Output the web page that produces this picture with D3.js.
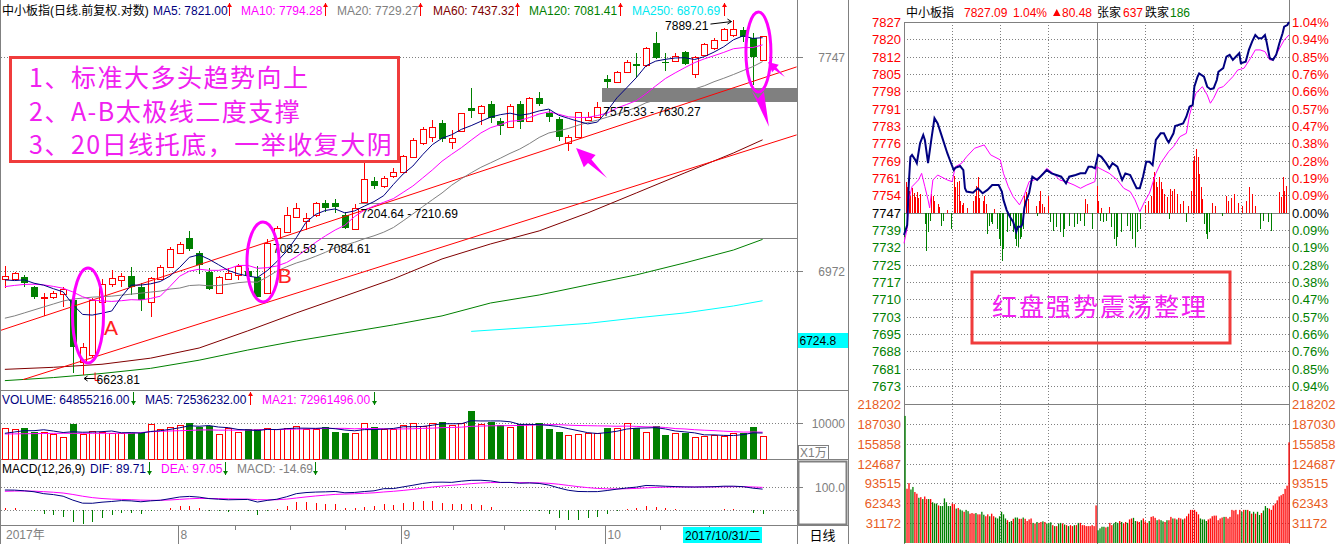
<!DOCTYPE html>
<html><head><meta charset="utf-8">
<script src="https://d3js.org/d3.v7.min.js"></script>
<style>html,body{margin:0;padding:0;background:#fff;overflow:hidden}svg{display:block}</style>
</head><body><svg id="chart" width="1342" height="544"></svg>
<script>
// ================= DAILY DATA (中小板指 2017-07 .. 2017-10-31) =================
const opens  = [6944.0,6945.0,6950.8,6916.5,6878.8,6884.3,6892.5,6873.0,6666.7,6689.1,
 6867.3,6926.8,6941.6,6955.3,6918.6,6867.3,6946.0,6987.2,7033.1,7085.5,
 7035.1,6970.0,6896.0,6945.0,6958.7,6972.0,6952.9,6896.0,7086.0,7108.7,
 7159.2,7146.2,7167.3,7208.4,7208.4,7167.3,7117.1,7212.0,7288.4,7271.5,
 7307.5,7321.9,7376.0,7427.0,7449.2,7498.6,7430.7,7471.3,7556.2,7537.7,
 7569.8,7507.1,7486.0,7569.8,7507.1,7591.1,7537.7,7513.4,7427.0,7449.2,
 7510.8,7520.8,7663.9,7651.5,7689.2,7720.6,7716.8,7799.6,7729.3,7733.0,
 7765.1,7682.8,7754.6,7780.5,7812.3,7831.5,7850.8,7818.9,7737.0];
const highs  = [6989.6,6970.0,6958.7,6921.0,6896.0,6904.9,6918.6,6878.8,6728.2,6878.8,
 6944.0,6975.8,6964.5,6985.1,6930.2,6952.9,6993.0,7056.0,7073.5,7112.2,
 7042.0,6981.7,6955.3,6981.7,6996.4,6982.0,6989.6,7082.58,7128.7,7194.4,
 7208.4,7173.3,7214.0,7220.0,7222.5,7178.9,7204.64,7352.2,7303.9,7306.4,
 7335.3,7382.1,7443.3,7483.9,7510.8,7510.8,7473.9,7537.7,7628.8,7566.2,
 7580.9,7517.1,7569.8,7580.9,7597.1,7616.0,7547.7,7523.0,7455.4,7541.4,
 7541.4,7575.33,7679.1,7695.3,7735.7,7761.2,7785.5,7841.9,7761.2,7761.2,
 7771.2,7751.9,7799.6,7818.9,7857.3,7889.21,7863.4,7838.1,7828.0];
const lows   = [6913.1,6941.6,6918.6,6877.5,6819.5,6875.3,6850.6,6630.0,6623.81,6683.4,
 6864.0,6918.6,6918.6,6890.1,6837.2,6815.1,6941.6,6981.7,7030.7,7042.0,
 6961.7,6907.3,6894.0,6941.6,6941.6,6945.0,6882.3,6893.7,7084.61,7103.0,
 7155.7,7114.6,7161.3,7178.9,7173.3,7117.1,7114.6,7210.69,7258.5,7263.2,
 7299.2,7316.2,7370.2,7418.5,7430.7,7430.7,7402.7,7467.6,7519.3,7492.4,
 7500.8,7455.4,7485.0,7476.5,7503.4,7562.5,7504.5,7434.4,7397.6,7447.0,
 7507.1,7517.1,7630.27,7647.7,7685.5,7666.6,7710.4,7738.3,7695.3,7729.3,
 7716.8,7666.6,7751.9,7773.9,7809.6,7825.0,7805.8,7641.3,7733.0];
const closes = [6956.3,6964.5,6930.2,6882.3,6884.3,6896.0,6910.7,6714.8,6716.8,6873.0,
 6927.8,6947.4,6954.2,6916.5,6873.0,6949.4,6987.2,7047.9,7065.5,7046.9,
 6993.0,6909.7,6952.9,6966.6,6989.6,6955.0,6884.3,7070.5,7122.7,7167.3,
 7190.9,7155.7,7210.5,7190.9,7194.4,7120.6,7190.9,7294.6,7271.5,7300.3,
 7321.9,7378.5,7437.0,7476.5,7483.9,7439.6,7443.3,7535.5,7545.1,7563.6,
 7517.1,7488.7,7563.6,7504.5,7593.4,7569.8,7523.0,7449.2,7447.0,7539.2,
 7520.8,7557.7,7653.8,7691.5,7727.0,7713.0,7783.2,7742.1,7725.5,7751.9,
 7719.4,7748.1,7796.9,7812.3,7853.5,7853.5,7825.0,7746.61,7827.09];
const volumes = [8730,8297,8568,7649,7649,6946,6297,9649,6946,7919,
 7486,7216,7216,7216,7216,9649,8297,9000,9378,9919,
 9000,9270,6946,8568,7486,8378,8378,8568,8297,8730,
 9108,8297,8297,8919,7649,7378,7216,9919,8919,8297,
 8297,9459,10081,9189,9919,10351,9459,10081,13243,9649,
 10351,9459,9000,9649,9649,10081,8378,7486,6757,6946,
 7378,7216,8730,8568,9919,8568,7486,9189,6757,7216,
 7378,6135,6486,6757,6486,7200,7378,8900,6485.5]; // 万股
// moving-average values before enough closes exist
const ma5Head  = [6941.6,6939.2,6941.6,6930.2];
const ma10Head = [6918.6,6922.7,6926.1,6926.8,6924.4,6919.3,6913.1,6900.4,6884.3];
const ma20Head = [6811.8,6819.5,6829.5,6839.6,6849.6,6859.6,6869.7,6876.2,6879.5,6882.8,
 6884.5,6886.2,6889.6,6893.0,6896.4,6899.9,6903.3,6910.2,6913.7];
const maLongIdx = [0,5,10,15,20,25,30,35,40,45,50,55,60,65,70,75,78];
const ma60Vals  = [6642.3,6649.0,6659.0,6679.0,6712.5,6769.3,6829.5,6886.7,6945.0,7013.5,7065.5,7111.1,7174.3,7245.2,7317.3,7389.3,7437.32];
const ma120Vals = [6605.5,6615.5,6628.9,6645.6,6672.4,6705.8,6735.9,6762.6,6789.4,6819.5,6863.0,6890.1,6924.4,6958.7,7000.0,7044.4,7081.41];
const ma250Idx  = [48,55,60,65,70,75,78];
const ma250Vals = [6767.7,6782.7,6794.4,6812.8,6829.5,6852.9,6870.69];
const volMa5Head  = [7216,7568,7919,7919];
const volMa21Head = [7030,7060,7100,7130,7160,7190,7216,7216,7216,7216,7216,7216,7216,7216,7400,7649,7750,7850,7919,8000];
const macdHist = [11,8,2,-5,-17,-20,-27,-48,-59,-48,
 -31,-20,-10,-10,-14,-5,0,11,20,20,
 11,-1,-5,-8,-5,-3,-20,-5,4,20,
 37,37,33,28,25,11,11,15,17,28,
 23,30,35,40,40,33,25,28,28,23,
 14,1,1,-5,-2,-5,-15,-31,-41,-41,
 -34,-27,-14,-2,6,11,20,14,8,4,
 1,0,1,2,5,4,0,-10,-14.69];
const deaStart = 79.14;
// price gaps
const gapStart = [27.5, 36.5, 61.5];
const gapLow   = [7082.58, 7204.64, 7575.33];
const gapHigh  = [7084.61, 7210.69, 7630.27];
// hand-drawn trend lines (index, price)
const trendIdx   = [[-0.5, 81.5], [1.87, 81.5]];
const trendPrice = [[6770.3, 7709.3], [6608.8, 7455.4]];
// axis labels
const leftTicks = [7747, 6972];
const monthIdx = [18, 41, 62];
const monthLabels = ['8', '9', '10'];
const titleText = '中小板指(日线.前复权.对数)';
const maLabels = ['MA5: 7821.00', 'MA10: 7794.28', 'MA20: 7729.27', 'MA60: 7437.32', 'MA120: 7081.41', 'MA250: 6870.69'];
const volLabels = ['VOLUME: 64855216.00', 'MA5: 72536232.00', 'MA21: 72961496.00'];
const macdLabels = ['MACD(12,26,9)', 'DIF: 89.71', 'DEA: 97.05', 'MACD: -14.69'];
const noteLines = ['1、标准大多头趋势向上', '2、A-B太极线二度支撑', '3、20日线托底，一举收复大阴'];

// ================= INTRADAY DATA (2017-10-31) =================
const prevClose = 7746.61, maxChg = 80.48;
const intraMin = [0,2,3,4,5,7,8,10,12,13,15,17,19,21,23,27,29,31,32,35,37,38,39,43,46,49,52,55,59,61,
 62,64,66,68,70,71,73,74,75,76,78,80,83,86,89,92,95,98,101,103,107,110,113,115,117,119,121,123,126,128,
 130,133,136,138,141,143,145,147,149,151,153,155,157,160,162,164,165,168,169,171,174,176,178,180,181,183,184,187,189,191,
 193,195,196,199,201,203,205,207,209,210,213,215,217,219,221,223,225,226,228,230,232,234,236,237,239,240];
const intraPrice = [7737.2,7741.4,7759.1,7770.2,7771.0,7768.9,7767.5,7775.9,7779.4,7777.3,7767.5,7777.3,7786.5,7784.3,7780.1,7771.7,7768.1,7764.6,7765.5,7766.3,
 7764.6,7756.9,7755.5,7755.0,7756.9,7754.8,7756.2,7758.3,7758.3,7755.5,7752.0,7747.7,7744.9,7742.8,7738.6,7740.7,7740.7,7742.1,7748.5,7751.3,
 7754.9,7761.8,7760.4,7762.5,7764.6,7763.2,7762.5,7761.8,7759.0,7761.8,7762.5,7763.2,7763.2,7766.0,7766.0,7765.3,7771.0,7770.2,7767.5,7765.3,
 7767.5,7766.0,7760.4,7763.2,7762.5,7759.7,7756.9,7756.9,7761.8,7768.1,7768.1,7766.7,7777.3,7780.1,7780.1,7777.3,7776.2,7780.1,7783.2,7783.6,
 7784.3,7787.1,7791.3,7792.1,7799.8,7804.0,7805.4,7804.0,7799.8,7798.7,7799.1,7802.6,7806.1,7807.6,7812.5,7813.2,7811.1,7812.5,7813.9,7809.7,
 7810.3,7815.3,7818.8,7821.6,7820.2,7820.2,7821.6,7818.8,7811.8,7811.1,7813.2,7818.1,7822.3,7825.1,7825.8,7827.09];
const avgMin = [0,2,3,5,9,11,13,15,16,18,21,27,30,32,36,39,44,50,54,60,62,65,68,72,75,78,81,85,89,93,
 97,101,106,110,114,119,120,124,128,133,137,141,144,147,150,153,157,160,165,168,172,176,178,180,182,186,189,191,193,196,
 199,202,205,208,212,216,219,222,225,228,230,233,237,240];
const avgPrice = [7733.7,7740.1,7752.0,7757.6,7760.4,7763.2,7757.6,7752.0,7748.6,7760.4,7762.5,7760.4,7759.7,7766.0,7767.5,7770.2,7773.8,7775.2,7771.0,7768.9,
 7763.2,7757.6,7753.4,7749.9,7754.1,7759.7,7760.4,7761.8,7765.3,7763.2,7760.4,7759.7,7758.3,7756.9,7758.3,7759.7,7766.0,7764.6,7763.2,7760.4,
 7756.9,7755.5,7752.0,7747.0,7751.3,7754.8,7763.2,7767.5,7772.4,7774.5,7778.7,7780.1,7787.8,7792.8,7797.0,7799.8,7796.3,7792.8,7794.9,7799.1,
 7799.8,7801.9,7804.0,7806.8,7807.6,7811.8,7815.3,7815.3,7814.6,7811.1,7811.1,7814.6,7819.5,7821.6];
const breadthMin = [0,1,2,3,4,5,6,7,8,9,10,13,14,15,16,17,18,19,21,22,23,24,27,29,31,32,33,34,35,36,
 37,39,43,44,45,46,47,49,50,51,52,53,54,55,56,58,59,60,61,62,64,66,68,69,70,71,72,73,74,75,
 76,77,82,83,84,85,86,87,90,91,93,95,97,99,100,103,106,108,110,112,113,114,117,120,121,122,123,124,126,128,
 129,131,132,133,135,139,141,142,144,145,147,150,152,154,155,156,157,158,159,160,161,162,164,165,166,167,168,170,172,174,
 176,177,179,180,181,182,183,184,185,186,187,188,189,190,192,194,198,201,202,204,206,208,211,213,215,217,219,222,224,227,
 229,234,235,236,237,238];
const breadthVal = [-10.4,12.8,10.7,9.3,7.2,10.6,8.4,6.8,8.9,6.3,8.0,-4.8,-16.0,-8.3,-3.4,8.0,7.2,5.1,3.8,2.5,-5.5,-3.4,1.3,-6.9,15.6,10.7,12.8,13.5,5.1,3.4,
 4.2,2.1,5.1,7.2,11.4,14.9,6.3,5.1,7.2,3.8,-9.0,-5.5,-4.1,-4.8,1.7,-6.9,-11.1,-13.9,-20.3,-15.3,-8.3,-5.5,-8.3,-11.1,-13.9,-14.6,-11.1,-10.4,-6.9,7.2,
 8.6,5.9,3.0,-1.3,5.1,9.3,3.8,2.5,7.2,-4.1,-7.6,-6.2,-8.3,-10.4,-6.9,-5.5,-6.2,-4.8,-3.4,-5.5,5.9,3.8,-6.9,11.4,5.1,-3.4,2.1,-4.1,-3.4,2.5,
 -6.2,-11.1,-13.9,-10.4,-8.3,-5.5,-7.6,-11.1,-14.6,-8.3,-6.9,3.4,5.1,7.2,14.9,17.0,12.8,10.7,14.9,12.8,10.1,8.0,6.5,-2.7,10.0,9.3,10.0,8.0,3.8,5.1,
 -4.1,3.0,9.3,21.9,24.1,26.9,23.3,16.3,10.7,5.9,-4.8,-9.0,-11.1,-8.3,4.2,3.0,-1.3,7.2,5.1,6.3,8.0,4.2,3.0,5.1,10.7,8.0,3.0,-6.9,-3.4,-4.1,
 -7.6,8.6,6.8,14.9,9.3,11.4];
const ivVol = [199500,85200,94000,84000,88000,80000,77400,71000,72000,69000,73000,69000,69000,69000,64000,62000,62000,59000,58000,58000,
 70000,64000,58000,58000,62000,61000,54000,55000,52500,51000,49000,52000,50000,46000,47000,46000,47000,45000,45000,49000,
 44400,42000,45000,42000,46000,42000,40000,38500,42000,49000,45000,38500,35800,33000,34500,38000,40000,40000,38000,38000,
 40000,38000,34500,37000,38500,31600,30700,33000,31600,33000,34000,33000,30700,31600,32500,28000,26500,26500,30700,31600,
 30700,29000,28000,26500,28000,26500,28000,28000,31600,31600,28000,28000,26500,26500,26500,28000,26500,
 59000,20000,23000,25500,25500,24400,25500,31600,28000,30700,33000,31600,34500,33000,30700,33000,31600,37000,38500,39500,
 34500,34000,33000,35800,38500,34000,31600,34500,41000,42000,39500,35800,37000,35800,34000,33000,35800,35800,41000,38500,
 38500,37000,39500,38500,37000,38500,42000,46000,52000,52000,52000,49000,45000,38500,37000,37000,34500,37000,38500,42000,
 43000,43000,35800,38500,40000,41000,41000,38500,41000,52000,51000,52000,45000,52000,49000,52000,52000,52000,50000,46000,
 49000,46000,49000,44000,47000,51000,58000,55000,54000,52000,59000,62000,67000,73000,75000,77000,85000,90000,158000];
const ivDir = 'grrggrrgrg'+'rrgrgggrgg'+'ggggrrgrgg'+'rggrrrgrrg'+'grrgrrgggg'+'ggrggrggrr'+'grrrrgrgrr'+'grgggrgrgg'+'rgrgrrgrgr'+'rrrrrrr'
 +'rggggrgrrg'+'ggrgrrgrrg'+'grrgrrrgrr'+'rgrggrgrrg'+'rgrrgrrrrr'+'rrrggggrrr'+'rrrrrgrrrr'+'rrrrgrgrgr'+'grggrgggrr'+'rrrrrrrrr';
const intraPriceLabels = ['7827','7820','7812','7805','7798','7791','7783','7776','7769','7761','7754','7747','7739','7732','7725','7717','7710','7703','7695','7688','7681','7673'];
const intraPctLabels = ['1.04%','0.94%','0.85%','0.76%','0.66%','0.57%','0.47%','0.38%','0.28%','0.19%','0.09%','0.00%','0.09%','0.19%','0.28%','0.38%','0.47%','0.57%','0.66%','0.76%','0.85%','0.94%'];
const ivLabels = ['218202','187030','155858','124687','93515','62343','31172'];
const intraHeader = ['中小板指', '7827.09', '1.04%', '80.48', '张家', '637', '跌家', '186'];
const intraNote = '红盘强势震荡整理';

// ================= DRAWING =================
const RED = '#ff0000', GREEN = '#008000', NAVY = '#000080', MAG = '#ff00ff', GRAY = '#808080';
const LAT = '"Liberation Sans","Noto Sans CJK SC",sans-serif';
const CJK = '"Noto Sans CJK SC","Liberation Sans",sans-serif';
const svg = d3.select('#chart').style('font-family', LAT);

function T(g, x, y, s, o = {}) {
  const t = g.append('text').attr('x', x).attr('y', y).text(s)
    .attr('font-size', o.size || 12).attr('fill', o.fill || '#000');
  if (o.anchor) t.attr('text-anchor', o.anchor);
  if (o.family) t.attr('font-family', o.family);
  if (o.ls != null) t.attr('letter-spacing', o.ls);
  return t;
}
function L(g, x1, y1, x2, y2, c, o = {}) {
  const l = g.append('line').attr('x1', x1).attr('y1', y1).attr('x2', x2).attr('y2', y2)
    .attr('stroke', c).attr('stroke-width', o.w || 1);
  if (o.dash) l.attr('stroke-dasharray', o.dash);
  if (o.crisp) l.attr('shape-rendering', 'crispEdges');
  return l;
}
function mark(g, x, yTop, yBot, up, c) {
  x = Math.round(x) + 0.5;
  L(g, x, yTop, x, yBot, c);
  const hy = up ? yTop : yBot, d = up ? 4 : -4;
  g.append('path').attr('d', `M${x - 2.5},${hy + d}L${x},${hy}L${x + 2.5},${hy + d}Z`).attr('fill', c);
}
function fatArrow(g, tx, ty, sx, sy, hl, hw, sw) {
  const dx = tx - sx, dy = ty - sy, len = Math.hypot(dx, dy), ux = dx / len, uy = dy / len, nx = -uy, ny = ux;
  const bx = tx - ux * hl, by = ty - uy * hl;
  const pts = [[tx, ty], [bx + nx * hw / 2, by + ny * hw / 2], [bx + nx * sw / 2, by + ny * sw / 2], [sx, sy],
    [bx - nx * sw / 2, by - ny * sw / 2], [bx - nx * hw / 2, by - ny * hw / 2]];
  g.append('polygon').attr('points', pts.map(p => p.join(',')).join(' ')).attr('fill', MAG);
}
function sma(arr, n, head) {
  return arr.map((_, i) => i < n - 1 ? head[i] : d3.mean(arr.slice(i - n + 1, i + 1)));
}

// ---------- scales (left) ----------
const N = closes.length;
const xc = d3.scaleLinear().domain([0, N - 1]).range([4.86, 762.6]);
const py = d3.scaleLog().domain([6972, 7747]).range([271, 57]);
const vy = d3.scaleLinear().domain([0, 10000]).range([460, 423]);
const my = d3.scaleLinear().domain([0, 100]).range([510.3, 486.7]);
const pxc = i => Math.round(xc(i)) + 0.5;

const defs = svg.append('defs');
defs.append('clipPath').attr('id', 'clipP').append('rect').attr('x', 1).attr('y', 18).attr('width', 796).attr('height', 372);

// ---------- frames ----------
const frame = svg.append('g');
[[0.5, 0, 0.5, 544], [797.5, 0, 797.5, 544], [848.5, 0, 848.5, 544],
 [0, 390.5, 848, 390.5], [0, 459.5, 848, 459.5], [0, 525.5, 848, 525.5]]
  .forEach(a => L(frame, a[0], a[1], a[2], a[3], GRAY, {crisp: true}));

// ---------- grid & right axis (left chart) ----------
const grid = svg.append('g');
leftTicks.forEach(v => {
  const yy = Math.round(py(v)) + 0.5;
  L(grid, 1, yy, 797, yy, GRAY, {dash: '1,2', crisp: true});
  L(grid, 797, yy, 803, yy, GRAY, {crisp: true});
  T(grid, 845, yy + 4.5, String(v), {fill: GRAY, anchor: 'end'});
});
{
  const yy = Math.round(vy(10000)) + 0.5;
  L(grid, 1, yy, 797, yy, GRAY, {dash: '1,2', crisp: true});
  L(grid, 797, yy, 803, yy, GRAY, {crisp: true});
  T(grid, 845, yy + 4.5, '10000', {fill: GRAY, anchor: 'end'});
  const y2 = Math.round(my(100)) + 0.5;
  L(grid, 1, y2, 797, y2, GRAY, {dash: '1,2', crisp: true});
  L(grid, 797, y2, 803, y2, GRAY, {crisp: true});
  const y0 = Math.round(my(0)) + 0.5;
  L(grid, 1, y0, 797, y0, GRAY, {dash: '1,2', crisp: true});
  grid.append('rect').attr('x', 798.5).attr('y', 461.5).attr('width', 48).attr('height', 63)
    .attr('fill', 'none').attr('stroke', GRAY).attr('stroke-width', 2);
  T(grid, 845, y2 + 4.5, '100.0', {fill: GRAY, anchor: 'end'});
  grid.append('rect').attr('x', 798.5).attr('y', 445.5).attr('width', 30).attr('height', 14)
    .attr('fill', '#fff').attr('stroke', GRAY);
  T(grid, 800, 457, 'X1万', {fill: GRAY, size: 12});
  // current price marker box
  grid.append('rect').attr('x', 798).attr('y', 333).attr('width', 50).attr('height', 15).attr('fill', '#00ffff');
  T(grid, 799.5, 345, '6724.8', {size: 12});
}

// ---------- price panel ----------
const pp = svg.append('g').attr('clip-path', 'url(#clipP)');
gapStart.forEach((s, k) => {
  const yt = py(gapHigh[k]), yb = py(gapLow[k]);
  pp.append('rect').attr('x', Math.round(xc(s))).attr('y', Math.round(yt))
    .attr('width', 797 - Math.round(xc(s))).attr('height', Math.max(1, Math.round(yb) - Math.round(yt)))
    .attr('fill', GRAY).attr('shape-rendering', 'crispEdges');
});
// long MAs
const lineIdx = (idx) => d3.line().x((d, j) => xc(idx[j])).y(d => py(d));
pp.append('path').attr('d', lineIdx(ma250Idx)(ma250Vals)).attr('fill', 'none').attr('stroke', '#00ffff');
pp.append('path').attr('d', lineIdx(maLongIdx)(ma120Vals)).attr('fill', 'none').attr('stroke', GREEN);
pp.append('path').attr('d', lineIdx(maLongIdx)(ma60Vals)).attr('fill', 'none').attr('stroke', '#800000');
// candles
for (let i = 0; i < N; i++) {
  const cx = pxc(i), up = closes[i] >= opens[i];
  const yo = py(opens[i]), yc = py(closes[i]), yh = py(highs[i]), yl = py(lows[i]);
  const top = Math.min(yo, yc), bot = Math.max(yo, yc);
  if (up) {
    const t = Math.round(top) + 0.5, b = Math.max(Math.round(bot) + 0.5, t + 1);
    L(pp, cx, Math.round(yh), cx, t, RED, {crisp: true});
    L(pp, cx, b, cx, Math.round(yl), RED, {crisp: true});
    pp.append('rect').attr('x', cx - 3).attr('y', t).attr('width', 6).attr('height', b - t)
      .attr('fill', '#fff').attr('stroke', RED).attr('shape-rendering', 'crispEdges');
  } else {
    L(pp, cx, Math.round(yh), cx, Math.round(yl), GREEN, {crisp: true});
    pp.append('rect').attr('x', cx - 3.5).attr('y', Math.round(top)).attr('width', 7)
      .attr('height', Math.max(1, Math.round(bot) - Math.round(top))).attr('fill', GREEN).attr('shape-rendering', 'crispEdges');
  }
}
// trend lines
trendIdx.forEach((ti, k) => {
  L(pp, xc(ti[0]), py(trendPrice[k][0]), xc(ti[1]), py(trendPrice[k][1]), RED);
});
const ma5 = sma(closes, 5, ma5Head), ma10 = sma(closes, 10, ma10Head), ma20 = sma(closes, 20, ma20Head);
const lineAll = d3.line().x((d, i) => xc(i)).y(d => py(d));
pp.append('path').attr('d', lineAll(ma20)).attr('fill', 'none').attr('stroke', GRAY);
pp.append('path').attr('d', lineAll(ma10)).attr('fill', 'none').attr('stroke', MAG);
pp.append('path').attr('d', lineAll(ma5)).attr('fill', 'none').attr('stroke', NAVY);

// gap labels
const ann = svg.append('g');
gapStart.forEach((s, k) => {
  T(ann, xc(s) + 1, py(gapLow[k]) + 14, `${gapLow[k].toFixed(2)} - ${gapHigh[k].toFixed(2)}`, {size: 12});
});
// low / high markers
{
  const iL = lows.indexOf(d3.min(lows)), yL = py(lows[iL]), xL = xc(iL);
  L(ann, xL + 13, yL + 3.5, xL + 2, yL + 3.5, '#000');
  ann.append('path').attr('d', `M${xL + 5},${yL + 1}L${xL + 1.5},${yL + 3.5}L${xL + 5},${yL + 6}`).attr('fill', 'none').attr('stroke', '#000');
  ann.append('path').attr('d', `M${xL + 12.5},${yL - 2.5}V${yL + 5.5}H${xL + 17}`).attr('fill', 'none').attr('stroke', RED);
  T(ann, xL + 14, yL + 8.5, lows[iL].toFixed(2), {size: 12});
  const iH = highs.indexOf(d3.max(highs)), yH = py(highs[iH]), xH = xc(iH);
  T(ann, xH - 25, yH + 10, highs[iH].toFixed(2), {size: 12, anchor: 'end'});
  L(ann, xH - 23, yH + 4, xH - 2, yH + 1.5, '#000');
  ann.append('path').attr('d', `M${xH - 6},${yH - 1}L${xH - 2},${yH + 1.5}L${xH - 6},${yH + 4}`).attr('fill', 'none').attr('stroke', '#000');
}
// ellipses & arrows & A/B
const ellIdx = [8.56, 26.57, 77.57], ellPrice = [6821.2, 7003.3, 7765.9];
const ellR = [[15.5, 47.5], [16, 40], [12.5, 40]];
ellIdx.forEach((ix0, k) => {
  ann.append('ellipse').attr('cx', xc(ix0)).attr('cy', py(ellPrice[k])).attr('rx', ellR[k][0]).attr('ry', ellR[k][1])
    .attr('fill', 'none').attr('stroke', MAG).attr('stroke-width', 3);
});
T(ann, xc(10.2), py(6756), 'A', {size: 21, fill: '#ff2020'});
T(ann, xc(28.1), py(6931.3), 'B', {size: 21, fill: '#ff2020'});
fatArrow(ann, xc(58.8), py(7407.5), xc(61.98), py(7299.2), 19, 17, 5);
fatArrow(ann, xc(78.55), py(7728.1), xc(80.3), py(7671.5), 10, 10, 3);
{
  const tx = xc(78.65), ty = py(7485);
  ann.append('polygon').attr('points', `${tx},${ty} ${tx - 17},${ty - 36} ${tx - 11},${ty - 28} ${tx - 5},${ty - 35}`).attr('fill', MAG);
}
// note box
ann.append('rect').attr('x', 10.5).attr('y', 57.5).attr('width', 388).attr('height', 104)
  .attr('fill', '#fff').attr('stroke', '#f03c3c').attr('stroke-width', 3);
noteLines.forEach((s, k) => T(ann, 29, 87 + k * 33.5, s, {size: 25, fill: '#f020f0', family: CJK, ls: 1.5}));

// ---------- header (left) ----------
const hd = svg.append('g');
T(hd, 2, 14.5, titleText, {size: 12});
const maColors = [NAVY, MAG, GRAY, '#800000', GREEN, '#00e8f0'];
const maX = [153, 241, 337, 433, 529, 632], maArrowX = [229, 325, 420, 517, 620, 724];
maLabels.forEach((s, k) => { T(hd, maX[k], 14.5, s, {fill: maColors[k]}); mark(hd, maArrowX[k], 3, 16, true, RED); });

// ---------- volume panel ----------
const vg = svg.append('g');
for (let i = 0; i < N; i++) {
  const cx = pxc(i), up = closes[i] >= opens[i], t = Math.round(vy(volumes[i]));
  if (up) vg.append('rect').attr('x', cx - 3).attr('y', t + 0.5).attr('width', 6).attr('height', 459 - t - 0.5)
    .attr('fill', '#fff').attr('stroke', RED).attr('shape-rendering', 'crispEdges');
  else vg.append('rect').attr('x', cx - 3.5).attr('y', t).attr('width', 7).attr('height', 459 - t).attr('fill', GREEN);
}
const vma5 = sma(volumes, 5, volMa5Head), vma21 = sma(volumes, 21, volMa21Head);
const vline = d3.line().x((d, i) => xc(i)).y(d => vy(d));
vg.append('path').attr('d', vline(vma21)).attr('fill', 'none').attr('stroke', MAG);
vg.append('path').attr('d', vline(vma5)).attr('fill', 'none').attr('stroke', NAVY);
const vX = [2, 145, 262], vA = [133, 250, 374], vUp = [false, true, false], vC = [NAVY, NAVY, MAG];
volLabels.forEach((s, k) => { T(vg, vX[k], 404, s, {fill: vC[k]}); mark(vg, vA[k], 392, 405, vUp[k], vUp[k] ? RED : GREEN); });

// ---------- MACD panel ----------
const mg = svg.append('g');
const dea = []; { let d = deaStart; macdHist.forEach(h => { d += h / 8; dea.push(d); }); }
const dif = dea.map((v, i) => v + macdHist[i] / 2);
macdHist.forEach((h, i) => {
  if (Math.abs(h) < 0.5) return;
  L(mg, pxc(i), my(0), pxc(i), my(h), h > 0 ? RED : GREEN, {crisp: true});
});
const mline = d3.line().x((d, i) => xc(i)).y(d => my(d));
mg.append('path').attr('d', mline(dea)).attr('fill', 'none').attr('stroke', MAG);
mg.append('path').attr('d', mline(dif)).attr('fill', 'none').attr('stroke', NAVY);
const mX = [2, 90, 161, 237], mA = [null, 149, 225, 315], mC = ['#000', NAVY, MAG, GRAY];
macdLabels.forEach((s, k) => { T(mg, mX[k], 473, s, {fill: mC[k]}); if (mA[k]) mark(mg, mA[k], 462, 475, false, GREEN); });

// ---------- x axis ----------
const xa = svg.append('g');
T(xa, 6, 539, '2017年', {fill: GRAY});
monthIdx.forEach((mi, k) => {
  L(xa, pxc(mi) - 2, 526, pxc(mi) - 2, 544, GRAY, {crisp: true});
  T(xa, pxc(mi), 539, monthLabels[k], {fill: GRAY});
});
[23.7, 29.4, 35, 46.1, 51.4, 56.6, 67.4, 72.5].forEach(v => L(xa, pxc(v), 526, pxc(v), 530, GRAY, {crisp: true}));
xa.append('rect').attr('x', 683).attr('y', 527).attr('width', 79).attr('height', 16).attr('fill', '#00ffff');
T(xa, 685, 540, '2017/10/31/二', {size: 12});
T(xa, 822.5, 540, '日线', {size: 13, anchor: 'middle', family: CJK});

// ================= INTRADAY PANEL =================
const ig = svg.append('g');
const stepP = maxChg / 11;
const ix = d3.scaleLinear().domain([0, 240]).range([904, 1289]);
const iy = d3.scaleLinear().domain([prevClose - 10 * stepP, prevClose + 11 * stepP]).range([386, 22]);
const ivy = d3.scaleLinear().domain([0, +ivLabels[0]]).range([543, 404]);
// vertical grid
d3.range(0, 241, 30).forEach(m => {
  const xx = Math.round(ix(m)) + 0.5, solid = m % 120 === 0;
  L(ig, xx, m === 240 ? 0 : 22, xx, 544, GRAY, solid ? {crisp: true} : {dash: '1,2', crisp: true});
});
intraPriceLabels.forEach((lab, j) => {
  const k = 11 - j, yy = Math.round(iy(prevClose + k * stepP)) + 0.5;
  const col = k > 0 ? RED : (k === 0 ? '#000' : GREEN);
  L(ig, 904, yy, 1289, yy, GRAY, (k === 0 || k === 11) ? {crisp: true} : {dash: '1,2', crisp: true});
  T(ig, 901, yy + 4.5, lab, {fill: col, size: 13, anchor: 'end'});
  T(ig, 1292, yy + 4.5, intraPctLabels[j], {fill: col, size: 13});
});
ivLabels.forEach((lab, j) => {
  const yy = Math.round(ivy(+lab)) + 0.5;
  L(ig, 904, yy, 1289, yy, GRAY, j === 0 ? {crisp: true} : {dash: '1,2', crisp: true});
  T(ig, 901, yy + 4.5, lab, {fill: '#e85c1e', size: 13, anchor: 'end'});
  T(ig, 1292, yy + 4.5, lab, {fill: '#e85c1e', size: 13});
});
// breadth bars
breadthMin.forEach((m, j) => {
  const v = breadthVal[j], xx = Math.round(ix(m)) + 0.5;
  L(ig, xx, iy(prevClose), xx, iy(prevClose + v), v > 0 ? RED : GREEN, {crisp: true});
});
// volume bars
const ivx = d3.scaleLinear().domain([0, ivVol.length - 1]).range([905, 1289]);
ivVol.forEach((v, j) => {
  ig.append('rect').attr('x', ivx(j) - 0.6).attr('y', ivy(v)).attr('width', 1.3).attr('height', 543 - ivy(v))
    .attr('fill', ivDir[j] === 'r' ? RED : GREEN);
});
// price & avg lines
const iline = d3.line().x(d => ix(d[0])).y(d => iy(d[1]));
ig.append('path').attr('d', iline(avgMin.map((m, j) => [m, avgPrice[j]]))).attr('fill', 'none').attr('stroke', MAG);
ig.append('path').attr('d', iline(intraMin.map((m, j) => [m, intraPrice[j]]))).attr('fill', 'none').attr('stroke', NAVY).attr('stroke-width', 2);
// header
T(ig, 906, 16.5, intraHeader[0], {size: 12});
T(ig, 964, 16.5, intraHeader[1], {fill: RED});
T(ig, 1013, 16.5, intraHeader[2], {fill: RED});
ig.append('path').attr('d', 'M1053,16L1060.5,16L1056.75,9Z').attr('fill', RED);
T(ig, 1062, 16.5, intraHeader[3], {fill: RED});
T(ig, 1097, 16.5, intraHeader[4], {size: 12});
T(ig, 1123, 16.5, intraHeader[5], {fill: RED});
T(ig, 1145, 16.5, intraHeader[6], {size: 12});
T(ig, 1170, 16.5, intraHeader[7], {fill: GREEN});
// note box
ig.append('rect').attr('x', 972).attr('y', 272).attr('width', 258).attr('height', 71)
  .attr('fill', 'none').attr('stroke', '#f03c3c').attr('stroke-width', 3);
T(ig, 992, 316, intraNote, {size: 25, fill: '#f020f0', family: CJK, ls: 2});
</script></body></html>
